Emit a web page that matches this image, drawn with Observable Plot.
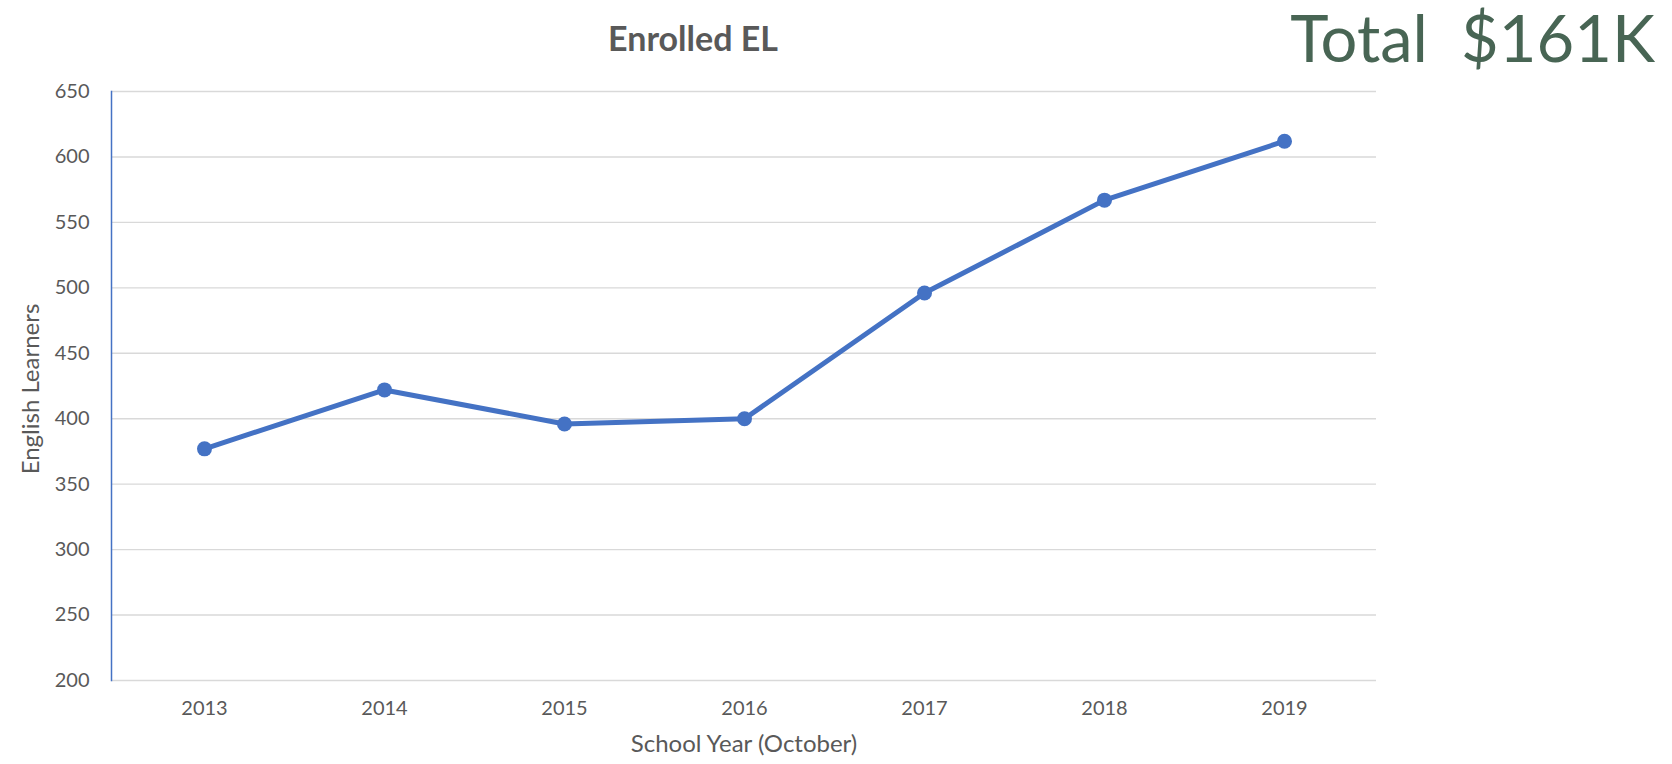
<!DOCTYPE html>
<html>
<head>
<meta charset="utf-8">
<script src="https://cdn.jsdelivr.net/npm/d3@7"></script>
<script src="https://cdn.jsdelivr.net/npm/@observablehq/plot@0.6"></script>
<style>
  html, body { margin: 0; padding: 0; background: #fff; }
  #wrap { position: relative; width: 1672px; height: 764px; font-family: Lato, "Open Sans", sans-serif; }
  #title { position: absolute; left: 0; width: 1386px; top: 17px; text-align: center; font-size: 34px; font-weight: bold; color: #595959; }
  #total { position: absolute; right: 17px; top: -2px; font-size: 65px; color: #486554; white-space: pre; line-height: 1.2; }
  #chart { position: absolute; left: 0; top: 0; }
</style>
</head>
<body>
<div id="wrap">
  <div id="chart"></div>
  <div id="title">Enrolled EL</div>
  <div id="total">Total  $161K</div>
</div>
<script>
const years = ["2013", "2014", "2015", "2016", "2017", "2018", "2019"];
const learners = [377, 422, 396, 400, 496, 567, 612];
const yTicks = [200, 250, 300, 350, 400, 450, 500, 550, 600, 650];
const xLabel = "School Year (October)";
const yLabel = "English Learners";

const data = years.map((y, i) => ({year: y, value: learners[i]}));

const chart = Plot.plot({
  width: 1672,
  height: 764,
  marginTop: 91,
  marginBottom: 84,
  marginLeft: 111,
  marginRight: 296,
  style: {fontFamily: "Lato, 'Open Sans', sans-serif", fontSize: "20px", color: "#595959", background: "white"},
  x: {type: "point", domain: years, padding: 0.5},
  y: {domain: [200, 650], ticks: yTicks},
  marks: [
    Plot.ruleY(yTicks, {stroke: "#d9d9d9", strokeWidth: 1.4}),
    Plot.frame({anchor: "left", stroke: "#4472C4", strokeWidth: 1.5}),
    Plot.axisY({ticks: yTicks, tickSize: 0, tickPadding: 22, label: null, fill: "#595959", fontSize: 20}),
    Plot.axisX({tickSize: 0, tickPadding: 20, label: null, fill: "#595959", fontSize: 20}),
    Plot.text([yLabel], {frameAnchor: "left", textAnchor: "middle", dx: -80, dy: 3, rotate: -90, fontSize: 24, fill: "#595959"}),
    Plot.text([xLabel], {frameAnchor: "bottom", dy: 71, fontSize: 24, fill: "#595959"}),
    Plot.line(data, {x: "year", y: "value", stroke: "#4472C4", strokeWidth: 5, strokeLinejoin: "round"}),
    Plot.dot(data, {x: "year", y: "value", r: 7.5, fill: "#4472C4"})
  ]
});
document.getElementById("chart").appendChild(chart);
</script>
</body>
</html>
